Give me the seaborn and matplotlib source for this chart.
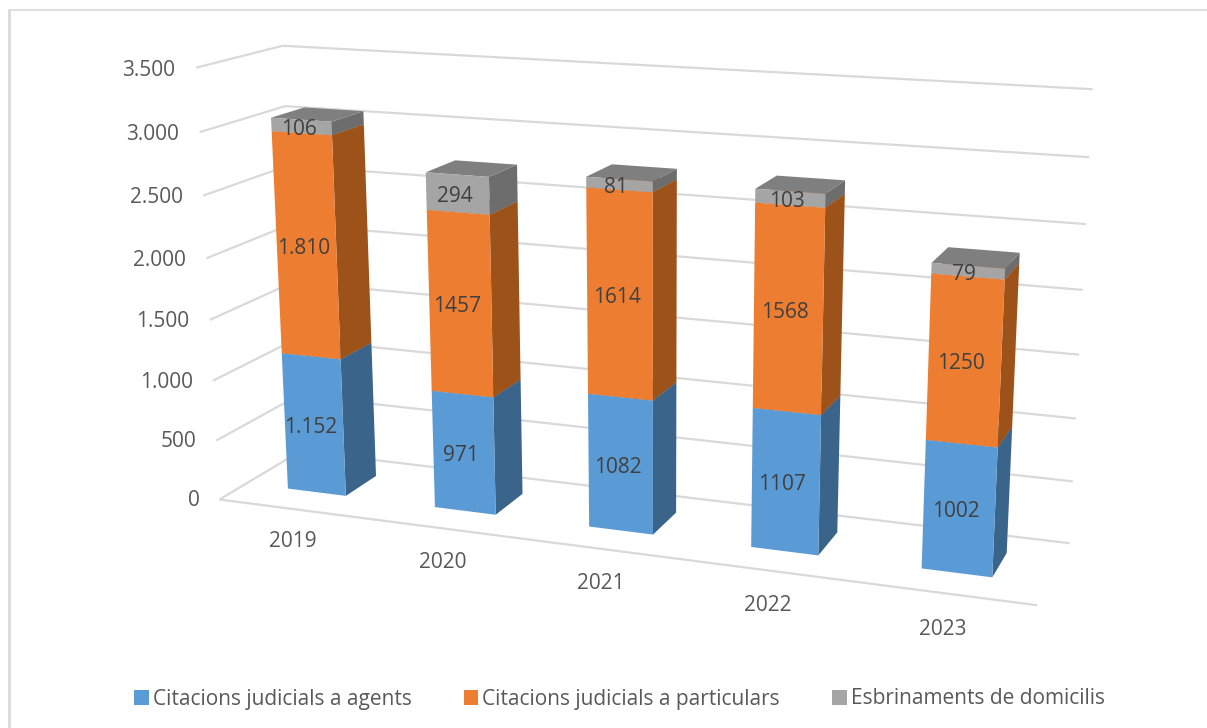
import numpy as np
import pandas as pd
import seaborn as sns
import matplotlib.pyplot as plt
from matplotlib.lines import Line2D
from matplotlib.patches import Patch
from mpl_toolkits.mplot3d.art3d import Line3DCollection

years = ['2019', '2020', '2021', '2022', '2023']
agents = [1152, 971, 1082, 1107, 1002]
particulars = [1810, 1457, 1614, 1568, 1250]
domicilis = [106, 294, 81, 103, 79]
series_names = ['Citacions judicials a agents', 'Citacions judicials a particulars', 'Esbrinaments de domicilis']
z_ticks = [0, 500, 1000, 1500, 2000, 2500, 3000, 3500]
z_labels = ['0', '500', '1.000', '1.500', '2.000', '2.500', '3.000', '3.500']

# camera of the excel 3d chart: box corners (category, depth, value) -> pixel in the image
box_points = [(0, 0, 0), (5, 0, 0), (0, 0, 500), (0, 0, 3000), (0, 0, 3500), (0, 1, 3500), (0, 1, 3000),
              (0, 1, 0), (5, 1, 3500), (5, 1, 3000), (5, 1, 2500), (5, 1, 2000), (5, 1, 500), (5, 1, 0)]
box_pixels = [(219, 499), (1038, 604), (216, 441), (200, 133), (196, 68), (283, 45), (285, 106),
              (301, 451), (1093, 89), (1089, 157), (1086, 224), (1082, 290), (1073, 482), (1069, 544)]

df = pd.DataFrame({series_names[0]: agents, series_names[1]: particulars, series_names[2]: domicilis}, index=years)

sns.set_theme(style='white')
plt.rcParams['font.family'] = ['Open Sans', 'DejaVu Sans']

front = sns.color_palette(['#5B9BD5', '#ED7D31', '#A5A5A5'])
side = sns.color_palette(['#3A648A', '#9C5218', '#6D6D6D'])
top = sns.color_palette(['#4A7DAA', '#BE6427', '#7F7F7F'])
none = (0, 0, 0, 0)

fig = plt.figure(figsize=(12.07, 7.28), dpi=100)
ax = fig.add_axes([0, 0, 1, 1], projection='3d', computed_zorder=False)
ax.set_xticks([])
ax.set_yticks([])
ax.set_zticks([])
ax.set_axis_off()
ax.apply_aspect()

# least squares for the projection matrix, in the view coords of the 3d axes
to_view = ax.transData.inverted()
rows, rhs = [], []
for (wx, wy, wz), (px, py) in zip(box_points, box_pixels):
    u, v = to_view.transform((px, 728 - py))
    wz = wz / 1000
    rows.append([wx, wy, wz, 1, 0, 0, 0, 0, -u * wx, -u * wy, -u * wz])
    rows.append([0, 0, 0, 0, wx, wy, wz, 1, -v * wx, -v * wy, -v * wz])
    rhs += [u, v]
p = np.linalg.lstsq(np.array(rows), np.array(rhs), rcond=None)[0]
camera = np.array([[p[0], p[1], p[2] / 1000, p[3]],
                   [p[4], p[5], p[6] / 1000, p[7]],
                   [0, 1, 0, 0],
                   [p[8], p[9], p[10] / 1000, 1]])
ax.get_proj = lambda: camera

# walls and floor
grid = '#D9D9D9'
segments = [[(0, 0, 0), (5, 0, 0)]]
for z in z_ticks:
    segments.append([(0, 0, z), (0, 1, z)])
    segments.append([(0, 1, z), (5, 1, z)])
walls = Line3DCollection(segments, colors=grid, linewidths=1.6, zorder=1)
ax.add_collection3d(walls, autolim=False)
walls.set_clip_on(False)

bar_x = 0.29
bar_w = 0.40
bar_y = 0.32
bar_d = 0.40

order = 2
for i, year in enumerate(df.index):
    base = 0
    for s, name in enumerate(df.columns):
        val = df.loc[year, name]
        # bottom, top, front, back, left, right
        faces = [none, top[s], front[s], none, none, side[s]]
        bar = ax.bar3d(i + bar_x, bar_y, base, bar_w, bar_d, val, color=faces, shade=False, linewidth=0)
        bar.set_zorder(order)
        bar.set_clip_on(False)
        order += 1
        label = f'{val:,}'.replace(',', '.') if i == 0 else str(val)
        ax.text(i + bar_x + bar_w / 2 - 0.02, bar_y, base + val / 2 - 25, label, ha='center', va='center',
                fontsize=15, color='#404040', zorder=50)
        base += val
    ax.text(i + 0.49, 0, -280, year, ha='center', va='center', fontsize=15, color='#595959', zorder=50)

for z, lab in zip(z_ticks, z_labels):
    ax.text(-0.14, 0, z - 30, lab, ha='right', va='center', fontsize=15, color='#595959', zorder=50)

handles = [Patch(facecolor=c, edgecolor='none') for c in front]
fig.legend(handles, series_names, ncol=3, loc='center', bbox_to_anchor=(619.5 / 1207, 1 - 699 / 728), frameon=False,
           fontsize=15, labelcolor='#595959', handlelength=0.7, handleheight=0.7, handletextpad=0.2, columnspacing=2.5)

# chart frame
fig.add_artist(Line2D([9 / 1207, 9 / 1207], [0, 1 - 10 / 728], color=grid, lw=2))
fig.add_artist(Line2D([9 / 1207, 1], [1 - 10 / 728, 1 - 10 / 728], color=grid, lw=1.2))

fig.savefig('out.png', dpi=100)
